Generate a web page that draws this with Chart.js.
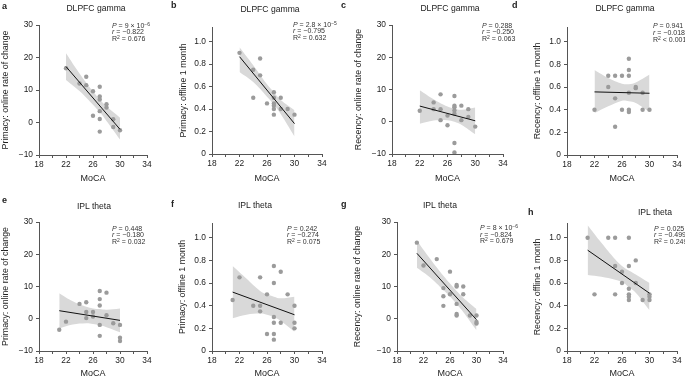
<!DOCTYPE html>
<html>
<head>
<meta charset="utf-8">
<script src="https://cdn.jsdelivr.net/npm/chart.js@4.4.1/dist/chart.umd.min.js"></script>
<style>
  html, body { margin: 0; padding: 0; background: #fff; }
  body { width: 685px; height: 379px; position: relative; overflow: hidden;
         font-family: 'Liberation Sans', Arial, Helvetica, sans-serif; color: #222; }
  canvas { position: absolute; }
  .lbl { position: absolute; font-weight: bold; font-size: 9px; line-height: 10px; }
  .ttl { position: absolute; font-size: 8.6px; line-height: 10px; white-space: nowrap; transform: translate(-50%, -50%); }
  .stats { position: absolute; font-size: 7px; line-height: 6.7px; white-space: nowrap; color: #333; }
  .stats sup { font-size: 5px; vertical-align: 2.5px; line-height: 0; }
</style>
</head>
<body>
<script>
// ---- data ----
const letters = ['a', 'b', 'c', 'd', 'e', 'f', 'g', 'h'];
const titles = ['DLPFC gamma', 'DLPFC gamma', 'DLPFC gamma', 'DLPFC gamma', 'IPL theta', 'IPL theta', 'IPL theta', 'IPL theta'];
const yLabels = ['Primacy: online rate of change', 'Primacy: offline 1 month', 'Recency: online rate of change', 'Recency: offline 1 month',
                 'Primacy: online rate of change', 'Primacy: offline 1 month', 'Recency: online rate of change', 'Recency: offline 1 month'];
const pText = ['9 × 10<sup>−6</sup>', '2.8 × 10<sup>−5</sup>', '0.288', '0.941', '0.448', '0.242', '8 × 10<sup>−6</sup>', '0.025'];
const rText = ['−0.822', '−0.795', '−0.250', '−0.018', '−0.180', '−0.274', '−0.824', '−0.499'];
const r2Text = ['= 0.676', '= 0.632', '= 0.063', '< 0.001', '= 0.032', '= 0.075', '= 0.679', '= 0.249'];

const xTickMin = 18, xTickMax = 34;
const rateTicks = [-10, 0, 10, 20, 30];
const fracTicks = [0, 0.2, 0.4, 0.6, 0.8, 1.0];

// a
const aX = [22, 24, 25, 25, 26, 26, 27, 27, 27, 27, 27, 27, 28, 28, 29, 29, 30];
const aY = [16.7, 12, 14.1, 11.5, 9.6, 2.1, 11, 8, 7.1, 3.5, 1.1, -2.8, 5.6, 4.6, 1, -1.4, -2.4];
const aFitX = [22, 30], aFitY = [17.2, -2.1];
const aBandX = [22, 24, 26, 27, 28, 30];
const aBandHi = [21.3, 15.1, 9.6, 7.1, 5.0, 1.5];
const aBandLo = [13.1, 9.7, 5.5, 3.2, 0.5, -5.2];
// b
const bX = [22, 24, 24, 25, 25, 26, 27, 27, 27, 27, 27, 27, 28, 28, 29, 30];
const bY = [0.90, 0.75, 0.50, 0.85, 0.70, 0.45, 0.55, 0.50, 0.45, 0.43, 0.40, 0.35, 0.50, 0.40, 0.40, 0.35];
const bFitX = [22, 30], bFitY = [0.866, 0.27];
const bBandX = [22, 24, 26, 27, 28, 30];
const bBandHi = [0.95, 0.79, 0.62, 0.55, 0.48, 0.39];
const bBandLo = [0.73, 0.64, 0.51, 0.44, 0.355, 0.155];
// c
const cX = [22, 24, 24, 25, 25, 25, 26, 26, 27, 27, 27, 27, 27, 27, 27, 28, 28, 29, 29, 30];
const cY = [3.4, 6.0, 3.9, 8.5, 3.9, 0.5, 1.9, -1.1, 8.0, 5.0, 4.5, 3.5, 2.5, -6.6, -9.5, 5.0, 0.5, 3.9, 1.5, -1.5];
const cFitX = [22, 30], cFitY = [4.86, 0.3];
const cBandX = [22, 24, 26, 27, 28, 30];
const cBandHi = [9.8, 7.0, 4.7, 4.0, 3.7, 4.4];
const cBandLo = [-0.6, 0.4, 0.5, 0.0, -0.9, -3.9];
// d
const dX = [22, 24, 24, 25, 25, 25, 26, 26, 27, 27, 27, 27, 27, 27, 28, 28, 29, 29, 30];
const dY = [0.40, 0.70, 0.60, 0.70, 0.50, 0.25, 0.70, 0.40, 0.85, 0.75, 0.70, 0.55, 0.40, 0.38, 0.60, 0.59, 0.55, 0.40, 0.40];
const dFitX = [22, 30], dFitY = [0.557, 0.545];
const dBandX = [22, 24, 26, 27, 28, 30];
const dBandHi = [0.75, 0.68, 0.63, 0.625, 0.64, 0.71];
const dBandLo = [0.37, 0.43, 0.48, 0.475, 0.46, 0.38];
// e
const eX = [21, 22, 24, 25, 25, 25, 26, 26, 27, 27, 27, 27, 27, 28, 28, 29, 30, 30, 30];
const eY = [-3.4, -0.9, 4.6, 5.1, 2.1, 0.2, 2.1, 0.7, 8.6, 6.1, 4.1, -1.9, -5.3, 8.1, 1.1, -1.4, -1.9, -5.9, -6.9];
const eFitX = [21, 30], eFitY = [2.5, -0.5];
const eBandX = [21, 23, 25, 26, 27, 28, 30];
const eBandHi = [7.9, 5.4, 3.7, 3.2, 3.0, 2.8, 3.2];
const eBandLo = [-3.0, -1.8, -1.4, -1.6, -2.0, -2.6, -4.2];
// f
const fX = [21, 22, 24, 25, 25, 25, 26, 26, 27, 27, 27, 27, 27, 27, 28, 28, 29, 30, 30, 30];
const fY = [0.45, 0.65, 0.40, 0.65, 0.40, 0.35, 0.50, 0.15, 0.75, 0.60, 0.30, 0.25, 0.15, 0.10, 0.70, 0.25, 0.50, 0.40, 0.25, 0.20];
const fFitX = [21, 30], fFitY = [0.52, 0.32];
const fBandX = [21, 23, 25, 26, 27, 28, 30];
const fBandHi = [0.75, 0.64, 0.53, 0.50, 0.48, 0.465, 0.48];
const fBandLo = [0.29, 0.32, 0.33, 0.32, 0.30, 0.265, 0.17];
// g
const gX = [21, 22, 24, 25, 25, 25, 26, 26, 27, 27, 27, 27, 27, 28, 28, 29, 30, 30, 30];
const gY = [23.6, 16.5, 18.5, 9.5, 7.0, 4.0, 14.6, 7.6, 10.5, 10.0, 4.6, 1.5, 1.0, 10.0, 7.6, 1.0, 1.0, -1.0, -1.5];
const gFitX = [21, 30], gFitY = [20.3, -0.3];
const gBandX = [21, 23, 25, 26, 27, 28, 30];
const gBandHi = [24.3, 18.6, 13.3, 10.9, 8.6, 6.5, 3.0];
const gBandLo = [15.8, 12.8, 8.9, 6.9, 4.6, 2.1, -3.6];
// h
const hX = [21, 22, 24, 25, 25, 25, 26, 26, 27, 27, 27, 27, 27, 27, 28, 28, 29, 30, 30, 30];
const hY = [1.0, 0.5, 1.0, 1.0, 0.75, 0.5, 0.7, 0.6, 1.0, 0.75, 0.55, 0.5, 0.48, 0.45, 0.8, 0.6, 0.45, 0.5, 0.48, 0.45];
const hFitX = [21, 30], hFitY = [0.89, 0.51];
const hBandX = [21, 23, 25, 26, 27, 28, 30];
const hBandHi = [1.11, 0.955, 0.81, 0.75, 0.71, 0.675, 0.60];
const hBandLo = [0.67, 0.655, 0.63, 0.61, 0.565, 0.515, 0.36];

// ---- placement of each panel (canvas box + fixed scale sizes) ----
const layout = [
  { left: 0,   top: 0,   w: 170, h: 184, yw: 39, xh: 29, pt: 25, pr: 23 },
  { left: 178, top: 0,   w: 162, h: 184, yw: 34, xh: 30, pt: 27, pr: 18 },
  { left: 353, top: 0,   w: 161, h: 184, yw: 39, xh: 30, pt: 25, pr: 11 },
  { left: 532, top: 0,   w: 153, h: 184, yw: 35, xh: 29, pt: 27, pr: 8 },
  { left: 0,   top: 190, w: 170, h: 189, yw: 39, xh: 28, pt: 32, pr: 23 },
  { left: 177, top: 190, w: 163, h: 189, yw: 35, xh: 28, pt: 33, pr: 18 },
  { left: 352, top: 190, w: 162, h: 189, yw: 45, xh: 28, pt: 32, pr: 11 },
  { left: 532, top: 190, w: 153, h: 189, yw: 35, xh: 28, pt: 33, pr: 8 }
];
const letterPos = [[2, 6], [171, 5], [341, 5], [512, 5], [2, 200], [171, 204], [341, 204], [528, 212]];
const titlePos = [[96, 7.5], [270, 9], [450, 8.3], [625, 8.3], [94, 206], [255, 205], [440, 205], [655, 212]];
const statsPos = [[112, 26], [293, 25], [482, 26], [653, 26.7], [112, 229], [287, 229], [480, 228.3], [654, 229]];

const panels = [
  { x: aX, y: aY, fitX: aFitX, fitY: aFitY, bandX: aBandX, hi: aBandHi, lo: aBandLo, frac: false },
  { x: bX, y: bY, fitX: bFitX, fitY: bFitY, bandX: bBandX, hi: bBandHi, lo: bBandLo, frac: true },
  { x: cX, y: cY, fitX: cFitX, fitY: cFitY, bandX: cBandX, hi: cBandHi, lo: cBandLo, frac: false },
  { x: dX, y: dY, fitX: dFitX, fitY: dFitY, bandX: dBandX, hi: dBandHi, lo: dBandLo, frac: true },
  { x: eX, y: eY, fitX: eFitX, fitY: eFitY, bandX: eBandX, hi: eBandHi, lo: eBandLo, frac: false },
  { x: fX, y: fY, fitX: fFitX, fitY: fFitY, bandX: fBandX, hi: fBandHi, lo: fBandLo, frac: true },
  { x: gX, y: gY, fitX: gFitX, fitY: gFitY, bandX: gBandX, hi: gBandHi, lo: gBandLo, frac: false },
  { x: hX, y: hY, fitX: hFitX, fitY: hFitY, bandX: hBandX, hi: hBandHi, lo: hBandLo, frac: true }
];

const FONT = "'Liberation Sans', Arial, Helvetica, sans-serif";
const AXIS = '#555';
const xy = (xs, ys) => xs.map((v, i) => ({ x: v, y: ys[i] }));

function addDiv(cls, html, left, top) {
  const d = document.createElement('div');
  d.className = cls;
  d.innerHTML = html;
  d.style.left = left + 'px';
  d.style.top = top + 'px';
  document.body.appendChild(d);
}

function makePanel(i) {
  const p = panels[i], g = layout[i];
  const cv = document.createElement('canvas');
  cv.width = g.w; cv.height = g.h;
  cv.style.left = g.left + 'px'; cv.style.top = g.top + 'px';
  document.body.appendChild(cv);

  const yTicks = p.frac ? fracTicks : rateTicks;

  new Chart(cv.getContext('2d'), {
    type: 'scatter',
    data: {
      datasets: [
        { type: 'line', showLine: true, data: xy(p.bandX, p.lo), borderWidth: 0, pointRadius: 0, fill: false, tension: 0.4, order: 4 },
        { type: 'line', showLine: true, data: xy(p.bandX, p.hi), borderWidth: 0, pointRadius: 0, fill: '-1',
          backgroundColor: '#d9d9d9', tension: 0.4, order: 3 },
        { data: xy(p.x, p.y), pointRadius: 2.2, pointBackgroundColor: '#9b9b9b', pointBorderWidth: 0, order: 2 },
        { type: 'line', showLine: true, data: xy(p.fitX, p.fitY), borderColor: '#111', borderWidth: 1, pointRadius: 0, fill: false, order: 1 }
      ]
    },
    options: {
      responsive: false,
      animation: false,
      events: [],
      layout: { padding: { left: 0, right: g.pr, top: g.pt, bottom: 0 } },
      plugins: { legend: { display: false }, tooltip: { enabled: false } },
      scales: {
        x: {
          type: 'linear', min: xTickMin, max: xTickMax,
          afterFit: s => { s.height = g.xh; },
          ticks: {
            stepSize: 2, autoSkip: false, maxRotation: 0, padding: 2, color: '#222',
            font: { family: FONT, size: 8.4 },
            callback: v => (v - xTickMin) % 4 === 0 ? String(v) : ''
          },
          grid: { drawOnChartArea: false, drawTicks: true, tickLength: 3, color: AXIS },
          border: { display: true, color: AXIS, width: 1 },
          title: { display: true, text: 'MoCA', padding: 0, color: '#222', font: { family: FONT, size: 9 } }
        },
        y: {
          type: 'linear', min: yTicks[0], max: p.frac ? 1.13 : yTicks[yTicks.length - 1],
          afterFit: s => { s.width = g.yw; },
          ticks: {
            stepSize: yTicks[1] - yTicks[0], includeBounds: false, autoSkip: false, padding: 3, color: '#222',
            font: { family: FONT, size: 8.4 },
            callback: v => v < 0 ? '\u2212' + Math.abs(v) : (p.frac && v !== 0 ? v.toFixed(1) : String(v))
          },
          grid: { drawOnChartArea: false, drawTicks: true, tickLength: 3, color: AXIS },
          border: { display: true, color: AXIS, width: 1 },
          title: { display: true, text: yLabels[i], padding: 0, color: '#222', font: { family: FONT, size: 8.8 } }
        }
      }
    }
  });

  addDiv('lbl', letters[i], letterPos[i][0], letterPos[i][1] - 5);
  addDiv('ttl', titles[i], titlePos[i][0], titlePos[i][1]);
  addDiv('stats',
    '<i>P</i> = ' + pText[i] + '<br><i>r</i> = ' + rText[i] + '<br>R<sup>2</sup> ' + r2Text[i],
    statsPos[i][0], statsPos[i][1] - 3.35);
}

for (let i = 0; i < panels.length; i++) makePanel(i);
</script>
</body>
</html>
